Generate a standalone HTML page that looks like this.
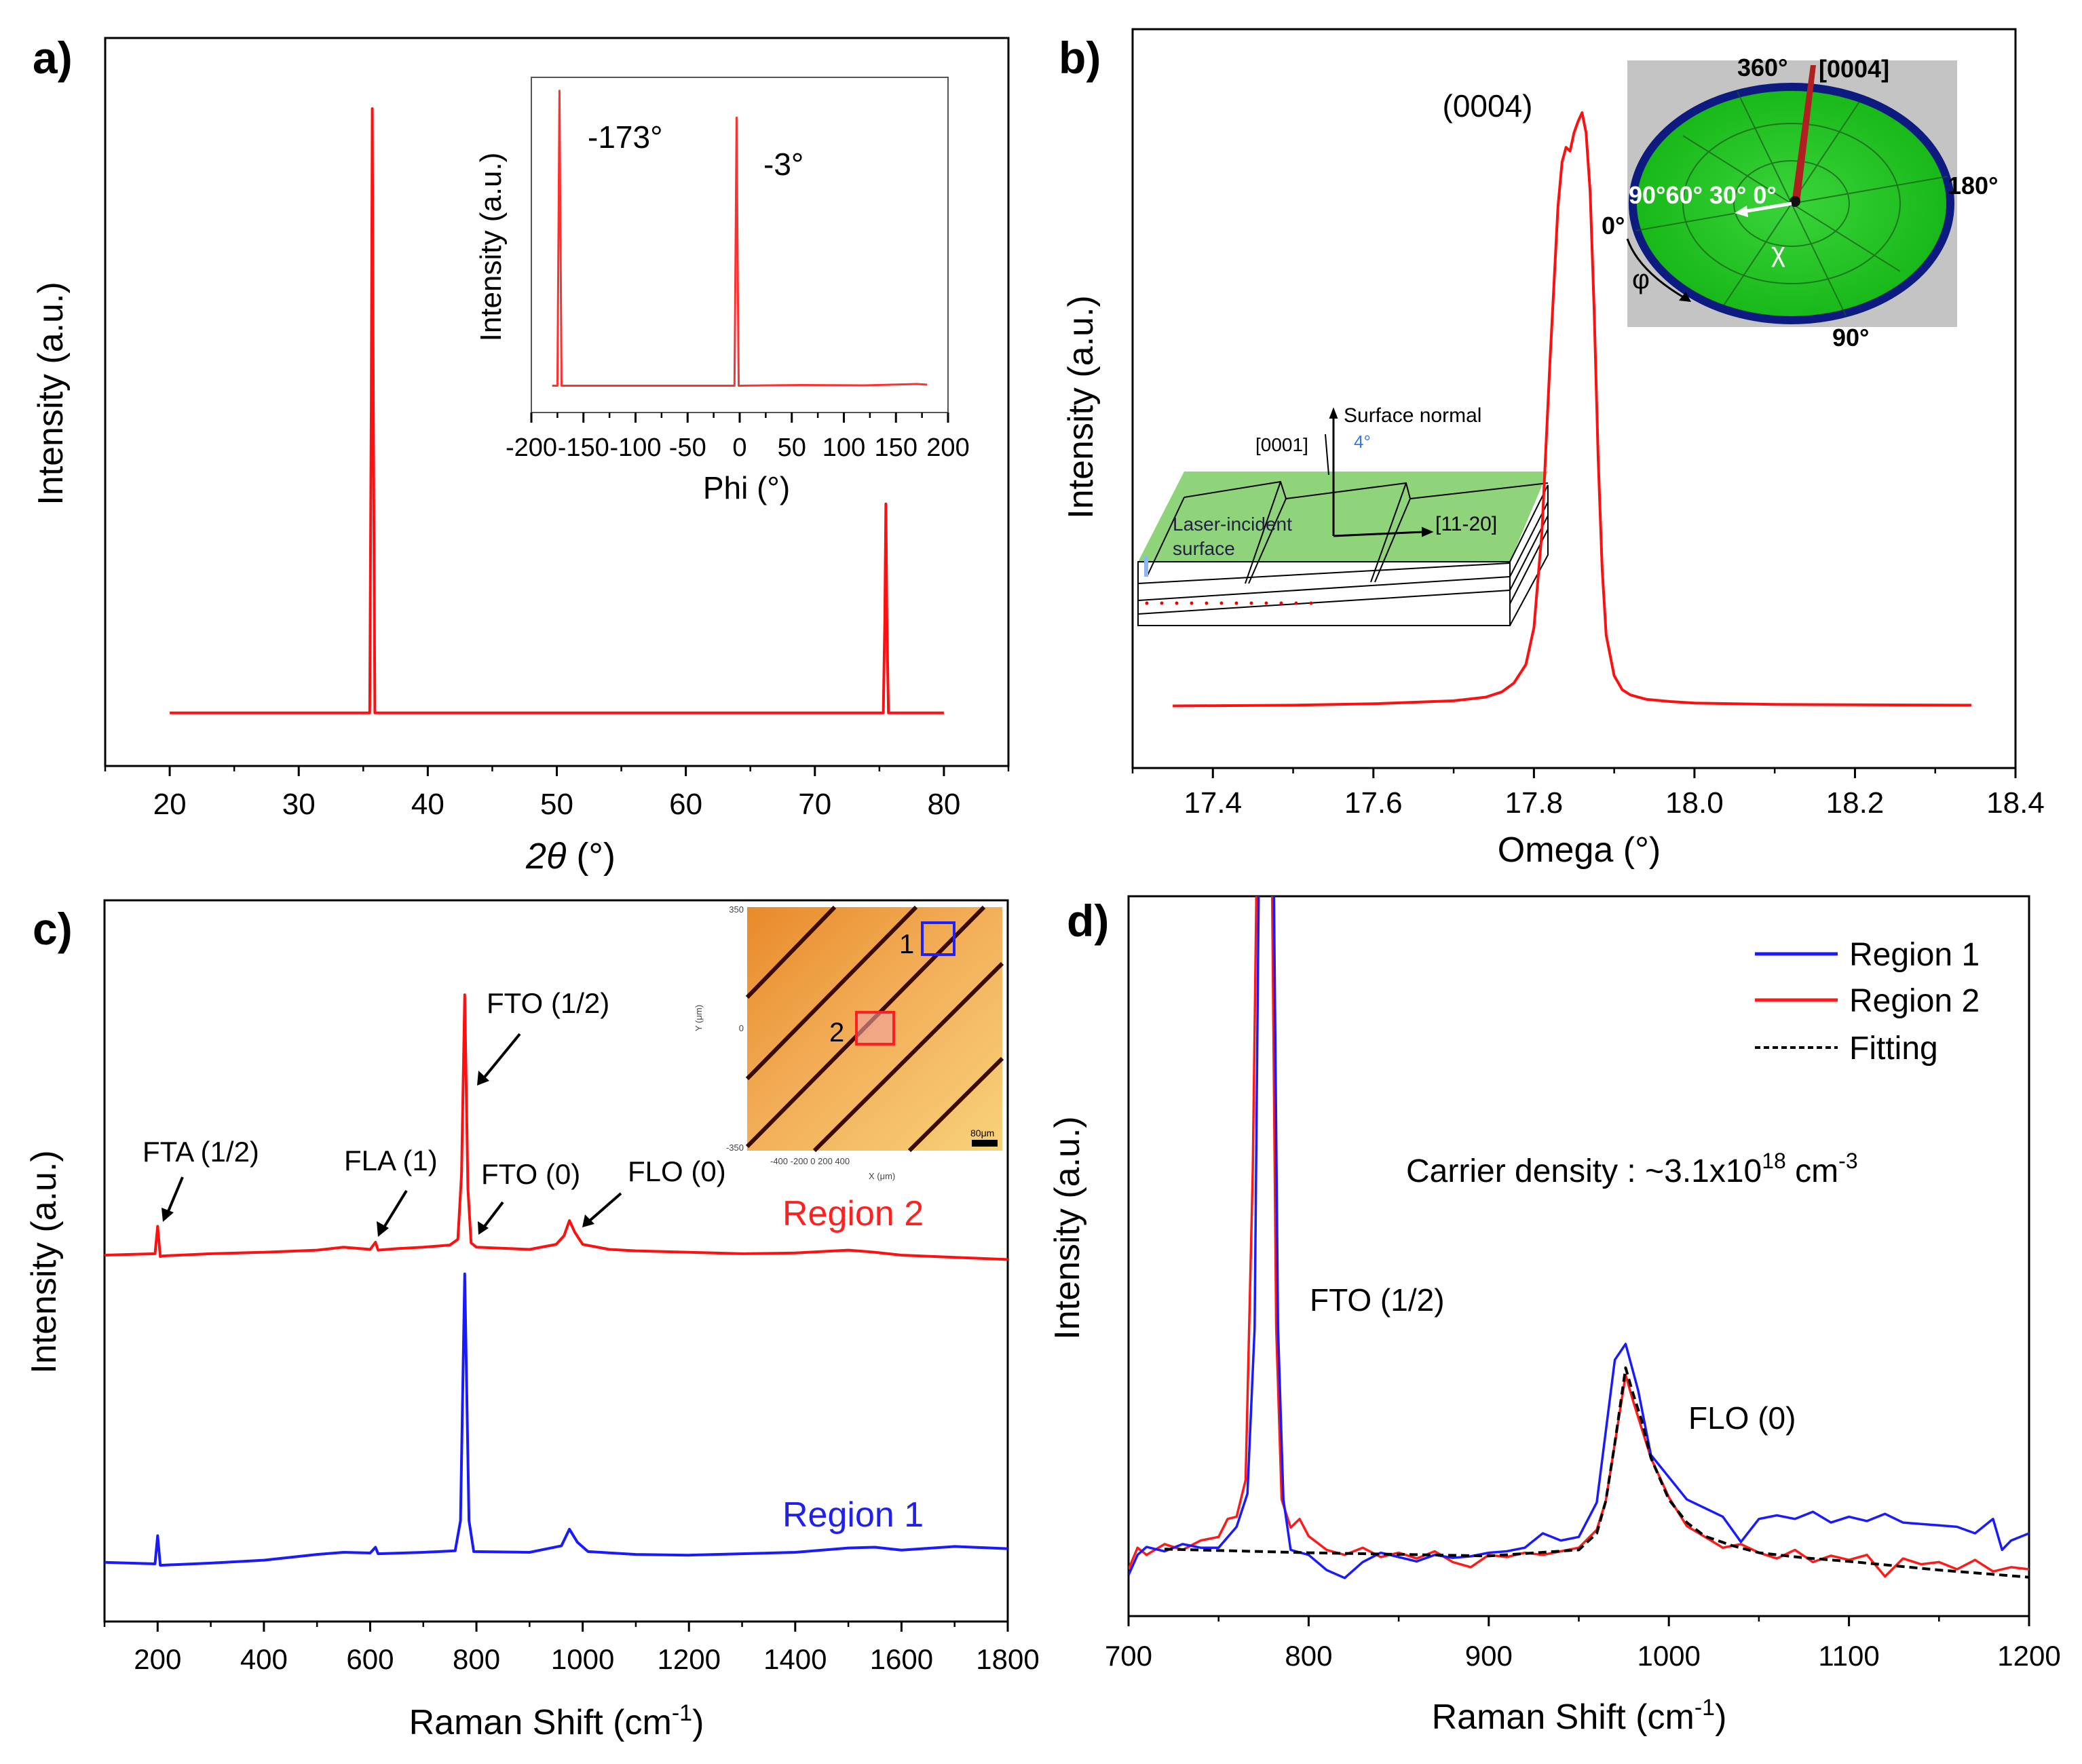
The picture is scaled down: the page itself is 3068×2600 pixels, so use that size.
<!DOCTYPE html>
<html><head><meta charset="utf-8"><style>
html,body{margin:0;padding:0;background:#fff}
svg{display:block;font-family:"Liberation Sans",Arial,sans-serif}
</style></head><body>
<svg id="fig" width="3068" height="2600" viewBox="0 0 3068 2600" xmlns="http://www.w3.org/2000/svg">
<defs>
<clipPath id="clipD"><rect x="1663" y="1321" width="1327" height="1061"/></clipPath>
<linearGradient id="mapg" x1="0" y1="0" x2="1" y2="1"><stop offset="0" stop-color="#e88a2a"/><stop offset="0.5" stop-color="#f3b05a"/><stop offset="1" stop-color="#f7d27a"/></linearGradient>
<radialGradient id="poleg" cx="0.5" cy="0.5" r="0.5"><stop offset="0" stop-color="#3ad43a"/><stop offset="1" stop-color="#18b818"/></radialGradient>
</defs>
<rect width="3068" height="2600" fill="#fff"/>

<!-- panel labels -->
<text x="48" y="108" font-size="66" font-weight="bold">a)</text>
<text x="1560" y="108" font-size="66" font-weight="bold">b)</text>
<text x="48" y="1392" font-size="66" font-weight="bold">c)</text>
<text x="1572" y="1380" font-size="66" font-weight="bold">d)</text>

<!-- axis titles -->
<text x="841" y="1280" font-size="54" text-anchor="middle"><tspan font-style="italic">2θ</tspan> (°)</text>
<text transform="translate(92,580) rotate(-90)" font-size="52" text-anchor="middle">Intensity (a.u.)</text>
<text x="1100" y="735" font-size="46" text-anchor="middle">Phi (°)</text>
<text transform="translate(738,364) rotate(-90)" font-size="44" text-anchor="middle">Intensity (a.u.)</text>
<text x="2327" y="1270" font-size="52" text-anchor="middle">Omega (°)</text>
<text transform="translate(1610,600) rotate(-90)" font-size="52" text-anchor="middle">Intensity (a.u.)</text>
<text x="820" y="2556" font-size="52" text-anchor="middle">Raman Shift (cm<tspan dy="-20" font-size="34">-1</tspan><tspan dy="20">)</tspan></text>
<text transform="translate(82,1860) rotate(-90)" font-size="52" text-anchor="middle">Intensity (a.u.)</text>
<text x="2327" y="2548" font-size="52" text-anchor="middle">Raman Shift (cm<tspan dy="-20" font-size="34">-1</tspan><tspan dy="20">)</tspan></text>
<text transform="translate(1590,1810) rotate(-90)" font-size="52" text-anchor="middle">Intensity (a.u.)</text>

<!-- panel a inset annotations -->
<text x="866" y="218" font-size="46">-173°</text>
<text x="1125" y="258" font-size="46">-3°</text>

<!-- panel b annotation -->
<text x="2192" y="172" font-size="46" text-anchor="middle">(0004)</text>

<!-- pole figure inset -->
<g>
<rect x="2398" y="89" width="486" height="393" fill="#c4c4c4"/>
<ellipse cx="2640" cy="300" rx="234" ry="172" fill="url(#poleg)" stroke="#0d1a80" stroke-width="12"/>
<g fill="none" stroke="#1a5a1a" stroke-width="2" opacity="0.7">
<ellipse cx="2640" cy="300" rx="160" ry="118"/><ellipse cx="2640" cy="300" rx="85" ry="63"/>
<line x1="2410" y1="340" x2="2870" y2="260"/><line x1="2560" y1="135" x2="2720" y2="465"/><line x1="2480" y1="200" x2="2800" y2="400"/><line x1="2740" y1="150" x2="2540" y2="450"/>
</g>
<polygon points="2640,300 2668,96 2676,96 2652,300" fill="#b02020"/>
<circle cx="2645" cy="297" r="8" fill="#111"/>
<line x1="2640" y1="300" x2="2568" y2="312" stroke="#fff" stroke-width="5"/>
<polygon points="2556,314 2574,303 2576,320" fill="#fff"/>
<text x="2560" y="112" font-size="36" font-weight="bold">360°</text>
<text x="2680" y="114" font-size="36" font-weight="bold">[0004]</text>
<text x="2870" y="286" font-size="36" font-weight="bold">180°</text>
<text x="2700" y="510" font-size="36" font-weight="bold">90°</text>
<text x="2360" y="345" font-size="36" font-weight="bold">0°</text>
<text x="2400" y="300" font-size="36" font-weight="bold" fill="#fff">90°60° 30°  0°</text>
<text x="2610" y="385" font-size="40" fill="#fff">χ</text>
<text x="2405" y="425" font-size="40">φ</text>
<path d="M2398,352 Q2415,400 2484,440" fill="none" stroke="#000" stroke-width="3"/>
<polygon points="2492,445 2474,443 2484,430" fill="#000"/>
</g>

<!-- schematic inset -->
<g fill="none" stroke="#000" stroke-width="2">
<polygon points="1745,695 2281,695 2225,828 1677,828" fill="#8fd47a" stroke="none"/>
<polygon points="1677,828 2225,828 2225,922 1677,922" fill="#fff" stroke="#000"/>
<polygon points="2225,828 2281,715 2281,818 2225,922" fill="#fff"/>
<line x1="1677" y1="860" x2="2225" y2="830"/><line x1="1677" y1="885" x2="2225" y2="850"/><line x1="1677" y1="905" x2="2225" y2="870"/>
<line x1="2225" y1="850" x2="2281" y2="740"/><line x1="2225" y1="870" x2="2281" y2="760"/><line x1="2225" y1="890" x2="2281" y2="780"/>
<polyline points="1745,733 1887,710 1895,735 2072,712 2078,735 2281,712"/>
<line x1="1745" y1="733" x2="1690" y2="850"/><line x1="1887" y1="710" x2="1835" y2="860"/><line x1="1895" y1="735" x2="1840" y2="860"/>
<line x1="2072" y1="712" x2="2020" y2="858"/><line x1="2078" y1="735" x2="2026" y2="858"/>
<polyline points="1965,790 1965,614" stroke-width="3"/><polygon points="1960,616 1970,616 1965,603" fill="#000"/>
<polyline points="1958,700 1953,640" stroke-width="2"/>
<polyline points="1965,790 2098,784" stroke-width="3"/><polygon points="2096,778 2110,784 2096,790" fill="#000"/>
<rect x="1686" y="820" width="6" height="30" fill="#8ab8f0" stroke="none"/>
</g>
<g fill="#e00">
<circle cx="1690" cy="889" r="2.5"/><circle cx="1712" cy="889" r="2.5"/><circle cx="1734" cy="889" r="2.5"/><circle cx="1756" cy="889" r="2.5"/><circle cx="1778" cy="889" r="2.5"/><circle cx="1800" cy="889" r="2.5"/><circle cx="1822" cy="889" r="2.5"/><circle cx="1844" cy="889" r="2.5"/><circle cx="1866" cy="889" r="2.5"/><circle cx="1888" cy="889" r="2.5"/><circle cx="1910" cy="889" r="2.5"/><circle cx="1932" cy="889" r="2.5"/>
</g>
<text x="1980" y="622" font-size="30">Surface normal</text>
<text x="1850" y="665" font-size="28">[0001]</text>
<text x="1995" y="660" font-size="26" fill="#3a7ad0">4°</text>
<text x="2115" y="782" font-size="30">[11-20]</text>
<text x="1728" y="782" font-size="28" fill="#224">Laser-incident</text>
<text x="1728" y="818" font-size="28" fill="#224">surface</text>

<!-- panel c map inset -->
<g>
<rect x="1101" y="1337" width="376" height="359" fill="url(#mapg)"/>
<g stroke="#3a0a00" stroke-width="6">
<line x1="1101" y1="1470" x2="1230" y2="1337"/><line x1="1101" y1="1590" x2="1350" y2="1337"/><line x1="1101" y1="1690" x2="1450" y2="1337"/><line x1="1200" y1="1696" x2="1477" y2="1420"/><line x1="1340" y1="1696" x2="1477" y2="1560"/>
</g>
<rect x="1359" y="1360" width="47" height="47" fill="none" stroke="#2020ff" stroke-width="4"/>
<rect x="1262" y="1492" width="55" height="47" fill="#f0a0a0" fill-opacity="0.6" stroke="#ff2020" stroke-width="4"/>
<text x="1325" y="1405" font-size="40">1</text>
<text x="1222" y="1535" font-size="40">2</text>
<rect x="1432" y="1680" width="38" height="10" fill="#000"/>
<text x="1430" y="1675" font-size="14">80μm</text>
<text x="1096" y="1345" font-size="13" text-anchor="end" fill="#444">350</text>
<text x="1096" y="1520" font-size="13" text-anchor="end" fill="#444">0</text>
<text x="1096" y="1696" font-size="13" text-anchor="end" fill="#444">-350</text>
<text x="1135" y="1716" font-size="13" fill="#444">-400      -200        0        200       400</text>
<text x="1280" y="1738" font-size="13" fill="#444">X (μm)</text>
<text transform="translate(1034,1520) rotate(-90)" font-size="13" fill="#444">Y (μm)</text>
</g>

<!-- panel c annotations -->
<g font-size="42">
<text x="210" y="1712">FTA (1/2)</text>
<text x="507" y="1725">FLA (1)</text>
<text x="717" y="1493">FTO (1/2)</text>
<text x="709" y="1745">FTO (0)</text>
<text x="925" y="1741">FLO (0)</text>
</g>
<g stroke="#000" stroke-width="4">
<line x1="269" y1="1735" x2="246" y2="1790"/><line x1="599" y1="1755" x2="564" y2="1812"/><line x1="766" y1="1524" x2="712" y2="1590"/><line x1="741" y1="1772" x2="712" y2="1810"/><line x1="915" y1="1759" x2="868" y2="1800"/>
</g>
<g fill="#000">
<polygon points="240,1801 238,1780 256,1787"/><polygon points="557,1823 555,1800 573,1810"/><polygon points="703,1600 705,1578 721,1593"/><polygon points="705,1820 704,1800 720,1810"/><polygon points="858,1809 862,1790 876,1804"/>
</g>
<text x="1153" y="1806" font-size="52" fill="#ff2020">Region 2</text>
<text x="1153" y="2250" font-size="52" fill="#2020ee">Region 1</text>

<!-- panel d annotations -->
<text x="2072" y="1742" font-size="48">Carrier density : ~3.1x10<tspan dy="-20" font-size="32">18</tspan><tspan dy="20"> cm</tspan><tspan dy="-20" font-size="32">-3</tspan></text>
<text x="1930" y="1932" font-size="46">FTO (1/2)</text>
<text x="2488" y="2106" font-size="46">FLO (0)</text>
<g>
<line x1="2586" y1="1406" x2="2708" y2="1406" stroke="#1a1aff" stroke-width="5"/>
<text x="2725" y="1423" font-size="48">Region 1</text>
<line x1="2586" y1="1474" x2="2708" y2="1474" stroke="#ff1a1a" stroke-width="5"/>
<text x="2725" y="1491" font-size="48">Region 2</text>
<line x1="2586" y1="1544" x2="2708" y2="1544" stroke="#000" stroke-width="4" stroke-dasharray="8,5"/>
<text x="2725" y="1561" font-size="48">Fitting</text>
</g>

<g id="marks"></g>
</svg>
<script>
// ---- panel a: XRD 2theta ----
const xrdX = [20, 35.5, 35.62, 35.7, 35.78, 35.9, 75.3, 75.42, 75.5, 75.58, 75.7, 80];
const xrdY = [7.3, 7.3, 50, 90.3, 50, 7.3, 7.3, 20, 36, 20, 7.3, 7.3];
const xrdTicks = [20, 30, 40, 50, 60, 70, 80];
// ---- panel a inset: phi scan ----
const phiX = [-180, -175, -173.8, -173, -172.2, -171, -5, -3.8, -3, -2.2, -1, 60, 120, 170, 180];
const phiY = [8, 8, 60, 96, 60, 8, 8, 55, 88, 55, 8, 8.2, 8.1, 8.5, 8.3];
const phiTicks = [-200, -150, -100, -50, 0, 50, 100, 150, 200];
// ---- panel b: omega rocking curve ----
const omX = [17.35, 17.5, 17.6, 17.7, 17.74, 17.76, 17.775, 17.79, 17.8, 17.81, 17.82, 17.83, 17.835, 17.84, 17.845, 17.85, 17.855, 17.86, 17.865, 17.87, 17.875, 17.88, 17.885, 17.89, 17.9, 17.91, 17.92, 17.94, 17.97, 18.0, 18.1, 18.345];
const omY = [8.4, 8.5, 8.7, 9.1, 9.6, 10.3, 11.5, 14, 19, 32, 55, 76, 82, 84, 83.5, 86, 87.5, 88.7, 86, 78, 62, 42, 27, 18, 12.5, 10.6, 9.9, 9.3, 9.0, 8.8, 8.6, 8.5];
const omTicks = [17.4, 17.6, 17.8, 18.0, 18.2, 18.4];
// ---- panel c: Raman spectra ----
const ramanRedX = [100,150,195,200,205,210,300,400,500,550,600,610,615,650,700,750,765,772,778,784,790,800,900,950,965,975,985,1000,1050,1100,1200,1300,1400,1500,1550,1600,1700,1800];
const ramanRedY = [50.8,50.9,51,54.8,50.6,50.7,51,51.2,51.5,51.9,51.6,52.6,51.5,51.7,51.9,52.2,53,62,86.9,60,52.5,51.9,51.6,52.3,53.5,55.6,54,52.3,51.6,51.4,51.2,51,51.1,51.5,51.2,50.8,50.5,50.2];
const ramanBlueX = [100,195,200,205,300,400,500,550,600,610,615,700,760,770,778,786,795,900,960,975,990,1010,1100,1200,1300,1400,1500,1550,1600,1700,1800];
const ramanBlueY = [8.2,8,11.9,7.8,8.1,8.5,9.3,9.6,9.5,10.3,9.4,9.6,9.8,14,48.2,14,9.7,9.6,10.5,12.8,11,9.7,9.3,9.2,9.4,9.6,10.2,10.3,9.9,10.4,10.1];
const ramanTicks = [200, 400, 600, 800, 1000, 1200, 1400, 1600, 1800];
// ---- panel d: zoomed Raman ----
const dRedX = [700,705,710,720,730,740,750,755,760,765,769,772,779,782,785,790,795,800,810,820,830,840,850,860,870,880,890,900,910,920,930,940,950,960,965,970,976,980,985,990,1000,1010,1020,1030,1040,1050,1060,1070,1080,1090,1100,1110,1120,1130,1140,1150,1160,1170,1180,1190,1200];
const dRedY = [6.5,9.5,8.5,10,9.2,10.5,11,13.5,13.8,18.9,62,120,120,40,16.2,12.3,13.5,11.1,9.2,8.5,9.5,8.2,8.8,8,9,7.5,6.8,8.5,8.2,8.8,8.5,9,9.5,12,16,24,33.5,30,26,22,16.5,12.5,11,9.5,10,8.8,8,9.2,7.5,8.4,7.8,8.5,5.5,8,7.2,7.5,6.5,7.8,6.2,6.8,6.5];
const dBlueX = [700,705,710,720,730,740,750,760,766,770,773,780,783,786,790,800,810,820,830,840,850,860,870,880,890,900,910,920,930,940,950,960,970,976,983,990,1000,1010,1020,1030,1040,1050,1060,1070,1080,1090,1100,1110,1120,1130,1140,1150,1160,1170,1180,1185,1190,1200];
const dBlueY = [5.7,8.5,9.6,9,10,9.5,9.5,12.4,17,40,120,120,40,16.2,9.2,8.5,6.4,5.3,7.5,8.8,8.2,7.6,8.5,8.1,8.3,8.8,9,9.5,11.5,10.5,11,15.8,35.6,37.8,31.3,22.4,19.3,16.2,15,13.8,10.3,13.5,14,13.5,14.5,13,13.8,13.2,14.2,13,12.8,12.6,12.4,11.5,13.5,9.2,10.5,11.5];
const dFitX = [720,800,900,950,960,965,970,976,980,985,990,1000,1010,1020,1035,1050,1075,1100,1150,1200];
const dFitY = [9.3,8.8,8.35,9.2,11.5,16,24,34.5,31,27.1,22,16.2,13,11.1,9.8,8.8,8.1,7.6,6.4,5.4];
const dTicks = [700, 800, 900, 1000, 1100, 1200];

const NS = 'http://www.w3.org/2000/svg';
const marks = document.getElementById('marks');
function lin(d0, d1, r0, r1) { return v => r0 + (v - d0) / (d1 - d0) * (r1 - r0); }
function mk(tag, attrs, parent) {
  const el = document.createElementNS(NS, tag);
  for (const k in attrs) el.setAttribute(k, attrs[k]);
  (parent || marks).appendChild(el);
  return el;
}
function frame(x0, y0, x1, y1, name) {
  const el = mk('rect', {x: x0, y: y0, width: x1 - x0, height: y1 - y0, fill: 'none', stroke: '#000', 'stroke-width': 3});
  
  
}
function xAxis(ticks, minorStep, dmin, dmax, xs, yb, fs, labY, name, fmt) {
  const g = mk('g', {});
  
  
  for (let v = dmin; v <= dmax + 1e-9; v += minorStep) {
    const vv = Math.round(v * 1000) / 1000;
    if (vv < dmin - 1e-9) continue;
    mk('line', {x1: xs(vv), x2: xs(vv), y1: yb, y2: yb + 8, stroke: '#000', 'stroke-width': 2.5}, g);
  }
  ticks.forEach(t => {
    mk('line', {x1: xs(t), x2: xs(t), y1: yb, y2: yb + 15, stroke: '#000', 'stroke-width': 3}, g);
    const tx = mk('text', {x: xs(t), y: labY, 'font-size': fs, 'text-anchor': 'middle'}, g);
    tx.textContent = fmt ? fmt(t) : String(t);
    
    
  });
}
function series(xsArr, ysArr, xs, ys, color, width, dash, name, clip) {
  const pts = xsArr.map((x, i) => xs(x).toFixed(1) + ',' + ys(ysArr[i]).toFixed(1)).join(' ');
  const attrs = {points: pts, fill: 'none', stroke: color, 'stroke-width': width, 'stroke-linejoin': 'round'};
  if (dash) attrs['stroke-dasharray'] = dash;
  if (clip) attrs['clip-path'] = clip;
  const el = mk('polyline', attrs);
  
  
}

// panel a
const axA = lin(15, 85, 155, 1486), ayA = lin(0, 100, 1129, 56);
frame(155, 56, 1486, 1129, 'plot-frame-a');
xAxis(xrdTicks, 5, 15, 85, axA, 1129, 44, 1200, 'x-axis-a');
series(xrdX, xrdY, axA, ayA, '#ff1010', 4, null, 'xrd-pattern');
// inset
const axI = lin(-200, 200, 783, 1397), ayI = lin(0, 100, 608, 114);
const ir = mk('rect', {x: 783, y: 114, width: 614, height: 494, fill: 'none', stroke: '#555', 'stroke-width': 2});


xAxis(phiTicks, 25, -200, 200, axI, 608, 38, 672, 'inset-x-axis');
series(phiX, phiY, axI, ayI, '#ff3030', 3, null, 'phi-scan');
// panel b
const axB = lin(17.3, 18.4, 1669, 2970), ayB = lin(0, 100, 1132, 43);
frame(1669, 43, 2970, 1132, 'plot-frame-b');
xAxis(omTicks, 0.1, 17.3, 18.4, axB, 1132, 44, 1198, 'x-axis-b', t => t.toFixed(1));
series(omX, omY, axB, ayB, '#ff1010', 4, null, 'rocking-curve');
// panel c
const axC = lin(100, 1800, 154, 1485), ayC = lin(0, 100, 2390, 1327);
frame(154, 1327, 1485, 2390, 'plot-frame-c');
xAxis(ramanTicks, 100, 100, 1800, axC, 2390, 42, 2460, 'x-axis-c');
series(ramanRedX, ramanRedY, axC, ayC, '#ff1010', 4, null, 'raman-region-2');
series(ramanBlueX, ramanBlueY, axC, ayC, '#1a1aff', 4, null, 'raman-region-1');
// panel d
const axD = lin(700, 1200, 1663, 2990), ayD = lin(0, 100, 2382, 1321);
frame(1663, 1321, 2990, 2382, 'plot-frame-d');
xAxis(dTicks, 50, 700, 1200, axD, 2382, 42, 2455, 'x-axis-d');
series(dRedX, dRedY, axD, ayD, '#ff1a1a', 3.5, null, 'raman-d-region-2', 'url(#clipD)');
series(dBlueX, dBlueY, axD, ayD, '#1a1aff', 3.5, null, 'raman-d-region-1', 'url(#clipD)');
series(dFitX, dFitY, axD, ayD, '#000', 4, '12,7', 'raman-d-fitting', 'url(#clipD)');
</script>
</body></html>
